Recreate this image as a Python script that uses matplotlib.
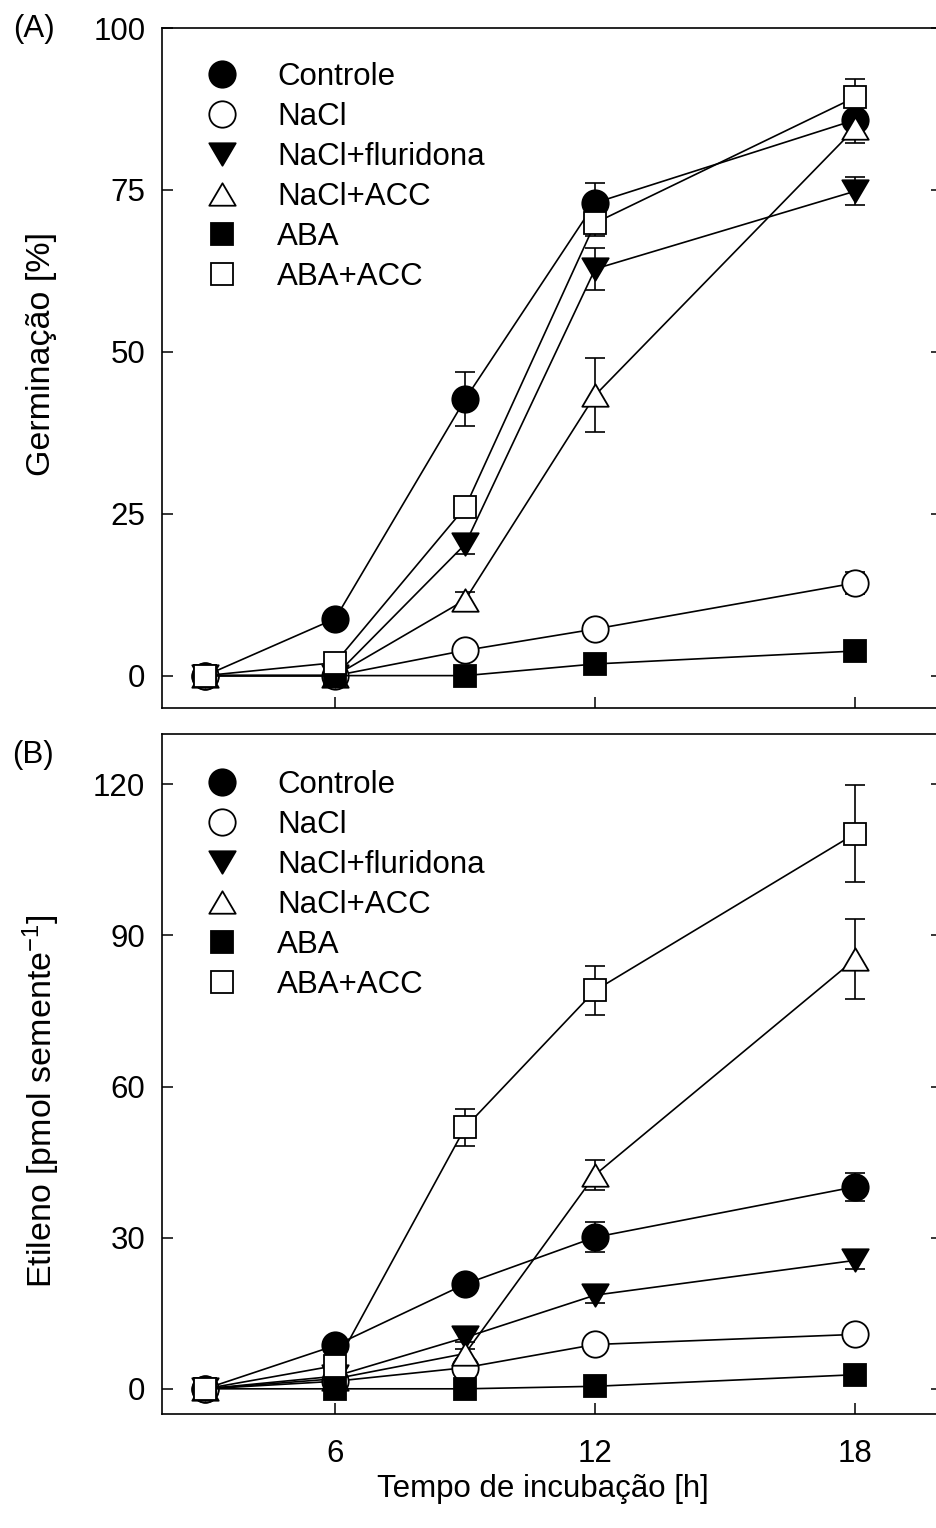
import numpy as np
import matplotlib
matplotlib.use("Agg")
import matplotlib.pyplot as plt
from matplotlib.lines import Line2D
from matplotlib.path import Path

plt.rcParams['font.family'] = ['Liberation Sans', 'DejaVu Sans']
plt.rcParams['mathtext.fontset'] = 'custom'
plt.rcParams['mathtext.rm'] = 'Liberation Sans'
plt.rcParams['mathtext.default'] = 'regular'

# tempo de incubacao (h)
tempo = [3, 6, 9, 12, 18]
series = ['Controle', 'NaCl', 'NaCl+fluridona', 'NaCl+ACC', 'ABA', 'ABA+ACC']

# (A) germinacao (%)
germ_controle = [0, 8.8, 42.7, 73.0, 85.8]
germ_nacl = [0, 0, 3.9, 7.2, 14.3]
germ_fluridona = [0, 0, 20.3, 62.8, 74.8]
germ_nacl_acc = [0, 0, 11.7, 43.3, 84.5]
germ_aba = [0, 0, 0, 1.8, 3.8]
germ_aba_acc = [0, 2.0, 26.0, 69.9, 89.3]

germ_err_controle = [0, 0, 4.2, 3.0, 2.8]
germ_err_nacl = [0, 0, 0, 0, 1.7]
germ_err_fluridona = [0, 0, 1.5, 3.2, 2.2]
germ_err_nacl_acc = [0, 0, 1.2, 5.7, 2.2]
germ_err_aba = [0, 0, 0, 0, 0]
germ_err_aba_acc = [0, 0, 0, 2.0, 2.8]

# (B) etileno (pmol semente-1)
et_controle = [0, 8.6, 20.8, 30.1, 40.1]
et_nacl = [0, 1.5, 4.2, 8.8, 10.8]
et_fluridona = [0, 2.5, 10.2, 18.6, 25.5]
et_nacl_acc = [0, 2.0, 7.0, 42.5, 85.3]
et_aba = [0, 0, 0, 0.5, 2.8]
et_aba_acc = [0, 4.6, 51.9, 79.1, 110.2]

et_err_controle = [0, 0, 1.0, 3.0, 2.8]
et_err_nacl = [0, 0, 0, 0, 0]
et_err_fluridona = [0, 0, 1.0, 1.5, 1.8]
et_err_nacl_acc = [0, 0, 1.0, 3.0, 8.0]
et_err_aba = [0, 0, 0, 0, 0]
et_err_aba_acc = [0, 0, 3.7, 4.8, 9.6]

# slightly flattened triangles, closed paths
tri_down = Path([(-1, 0.85), (1, 0.85), (0, -0.85), (-1, 0.85)], closed=True)
tri_up = Path([(-1, -0.85), (1, -0.85), (0, 0.85), (-1, -0.85)], closed=True)
styles = [
    dict(marker='o', mfc='black', ms=19),
    dict(marker='o', mfc='white', ms=19),
    dict(marker=tri_down, mfc='black', ms=19),
    dict(marker=tri_up, mfc='white', ms=19),
    dict(marker='s', mfc='black', ms=16.5),
    dict(marker='s', mfc='white', ms=16.5),
]

FS = 22.5
FS_Y = 24.5
fig = plt.figure(figsize=(9.37, 15.28), dpi=100)
W, H = 937, 1528
axA = fig.add_axes([162 / W, 1 - 708 / H, 779.7 / W, 680 / H])
axB = fig.add_axes([162 / W, 1 - 1414 / H, 779.7 / W, 680 / H])


def draw(ax, vals, errs, leg_y):
    for i, (y, e, st) in enumerate(zip(vals, errs, styles)):
        ax.errorbar(tempo, y, yerr=e, fmt='none', ecolor='black',
                    elinewidth=1.2, capsize=7.5, capthick=1.2, zorder=2 + i)
        ax.plot(tempo, y, color='black', lw=1.2, marker=st['marker'],
                ms=st['ms'], mfc=st['mfc'], mec='black', mew=1.3,
                zorder=2.5 + i, clip_on=False)
    handles = [Line2D([], [], ls='none', marker=st['marker'], ms=st['ms'],
                      mfc=st['mfc'], mec='black', mew=1.3) for st in styles]
    ax.legend(handles, series, loc='upper left', bbox_to_anchor=(0.0469, leg_y),
              frameon=False, fontsize=FS, borderpad=0, borderaxespad=0,
              handlelength=1.5, handletextpad=1.01, labelspacing=0.32)
    ax.set_xlim(2, 20)
    ax.set_xticks([6, 12, 18])
    ax.tick_params(direction='in', length=8, width=1.1, labelsize=FS,
                   right=True, top=False, pad=12)
    ax.tick_params(axis='x', pad=18)
    for sp in ax.spines.values():
        sp.set_linewidth(1.2)


draw(axA, [germ_controle, germ_nacl, germ_fluridona, germ_nacl_acc, germ_aba, germ_aba_acc],
     [germ_err_controle, germ_err_nacl, germ_err_fluridona, germ_err_nacl_acc,
      germ_err_aba, germ_err_aba_acc], 0.9496)
axA.set_ylim(-5, 100)
axA.set_yticks([0, 25, 50, 75, 100])
axA.tick_params(axis='x', labelbottom=False)
axA.set_ylabel('Germinação [%]', fontsize=FS_Y, va='center')
axA.yaxis.set_label_coords(-0.1545, 0.52)

draw(axB, [et_controle, et_nacl, et_fluridona, et_nacl_acc, et_aba, et_aba_acc],
     [et_err_controle, et_err_nacl, et_err_fluridona, et_err_nacl_acc,
      et_err_aba, et_err_aba_acc], 0.9467)
axB.set_ylim(-5, 130)
axB.set_yticks([0, 30, 60, 90, 120])
axB.set_ylabel('Etileno [pmol semente$^{-1}$]', fontsize=FS_Y, va='center')
axB.yaxis.set_label_coords(-0.1545, 0.46)
axB.set_xlabel('Tempo de incubação [h]', fontsize=FS, va='center')
axB.xaxis.set_label_coords(0.4887, -0.11)

fig.text(13 / W, 1 - 29 / H, '(A)', fontsize=FS, ha='left', va='center')
fig.text(12 / W, 1 - 755 / H, '(B)', fontsize=FS, ha='left', va='center')

fig.savefig('out.png', dpi=100)
